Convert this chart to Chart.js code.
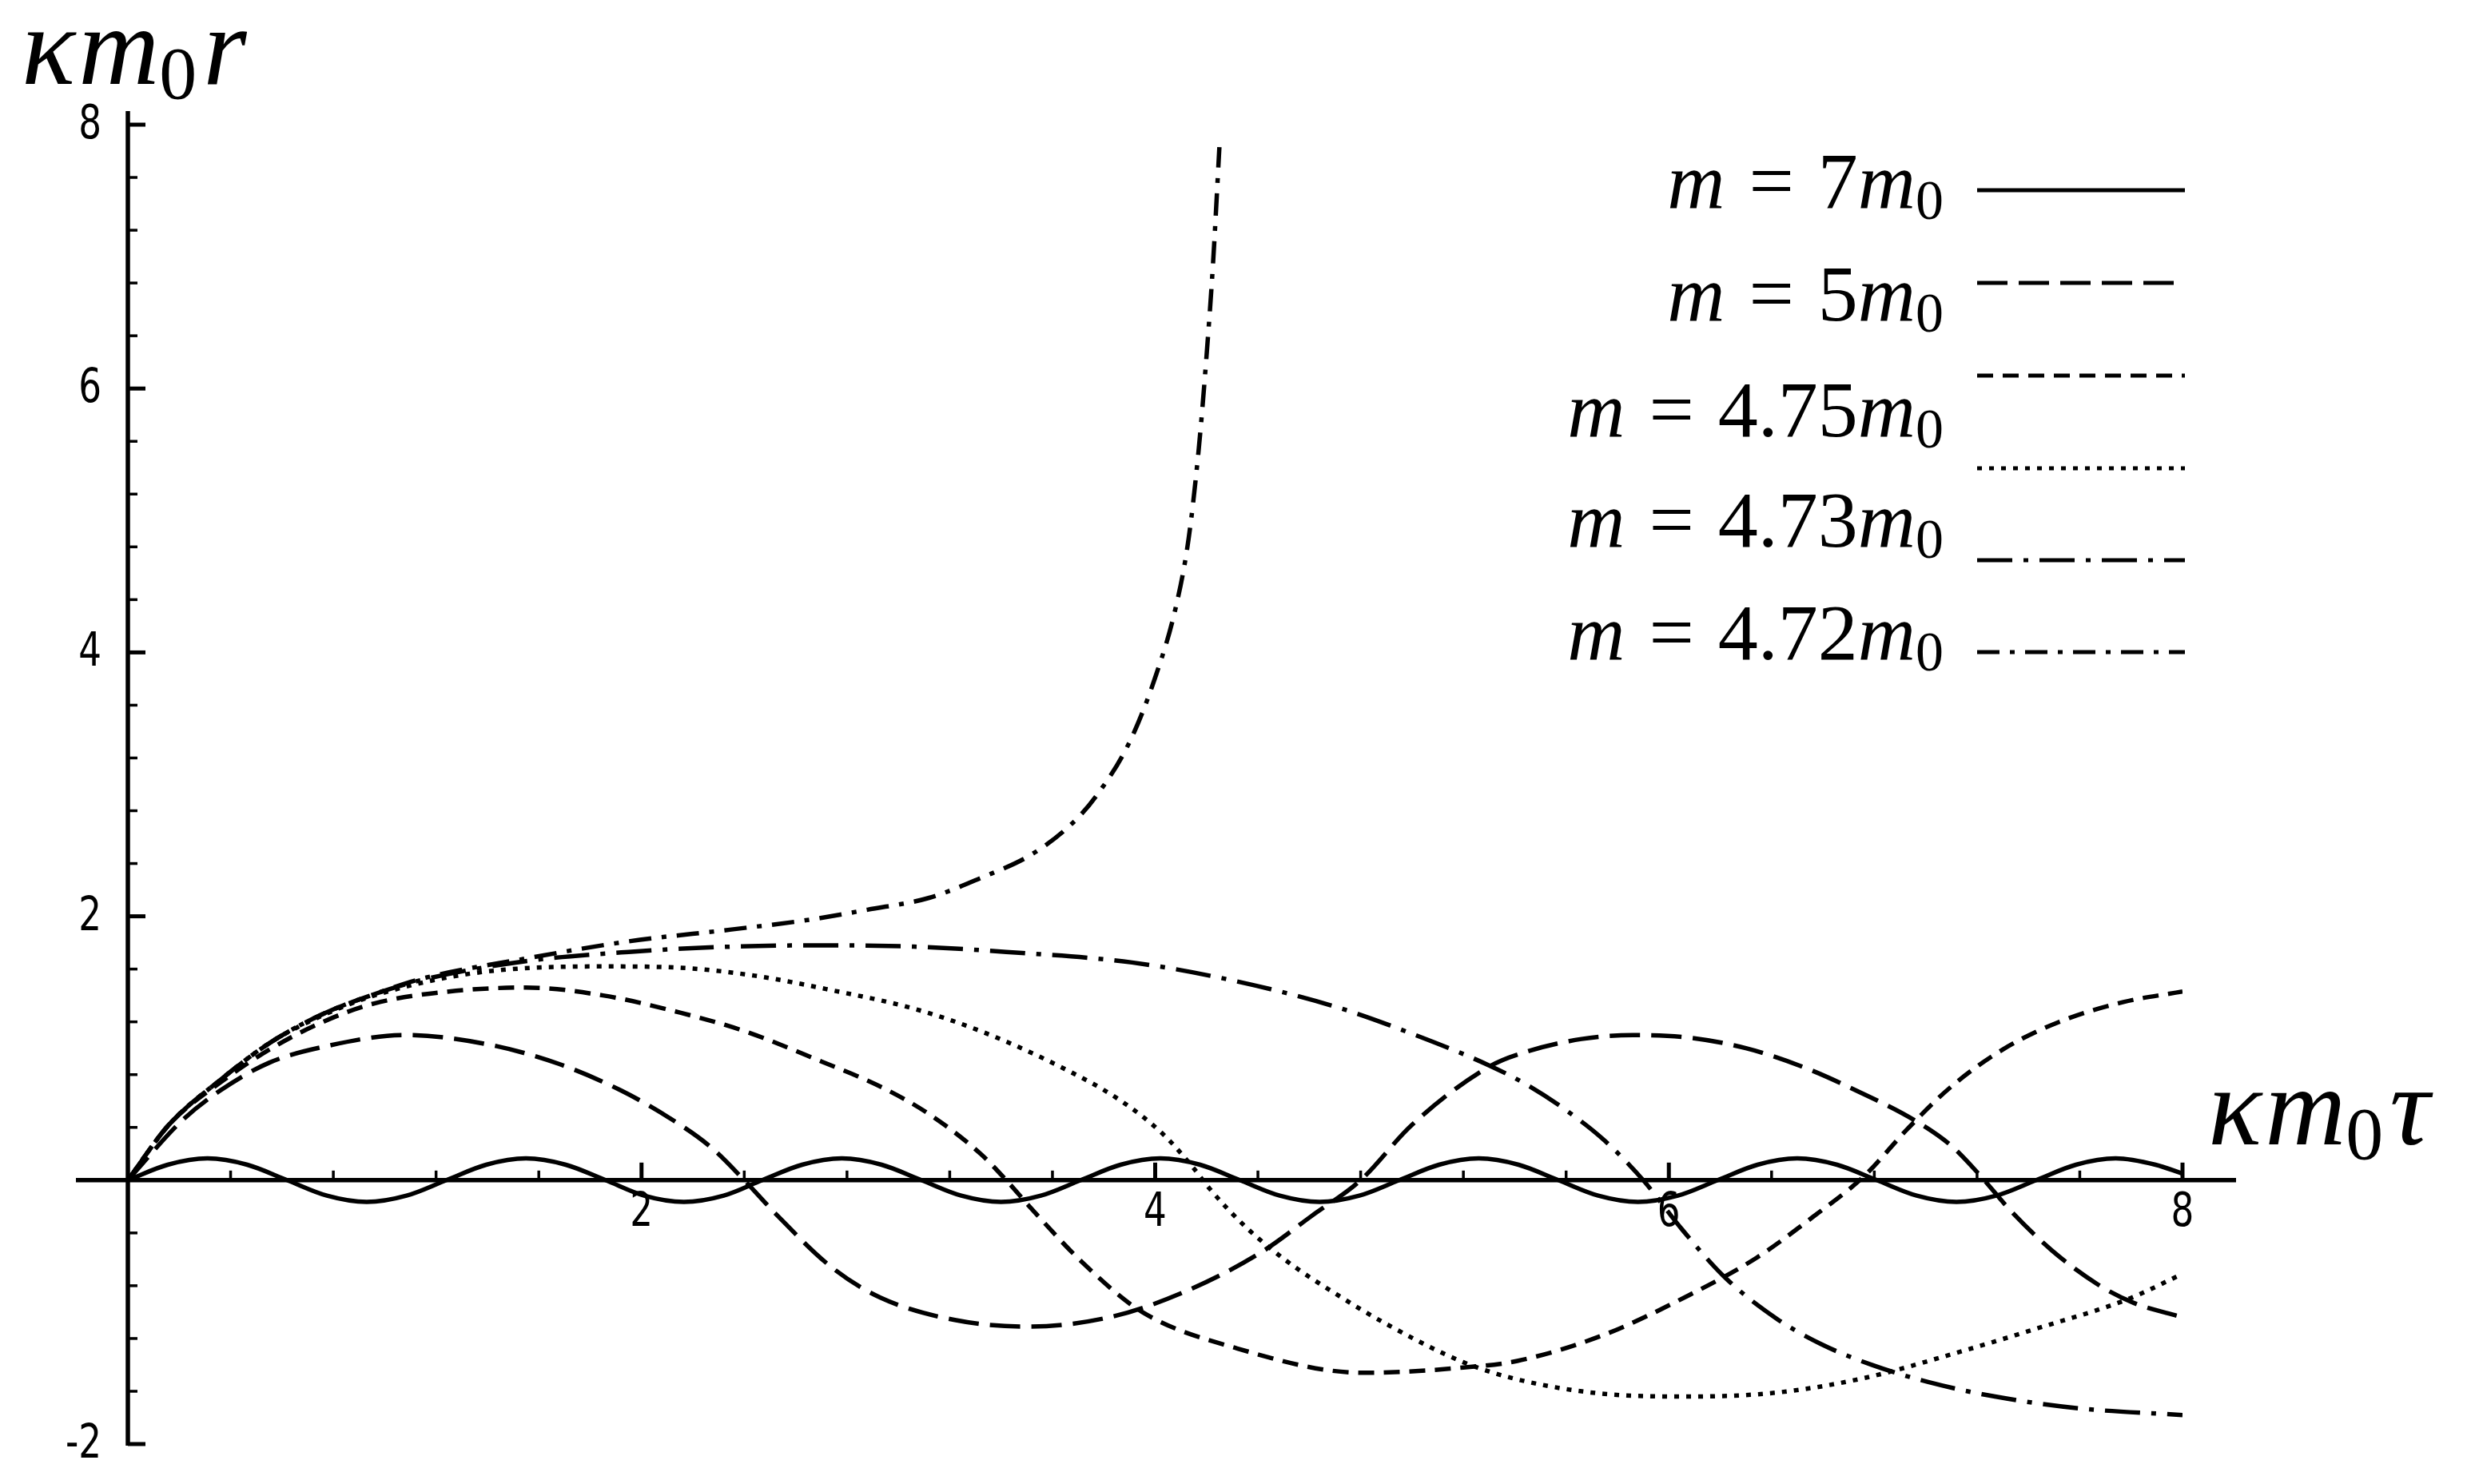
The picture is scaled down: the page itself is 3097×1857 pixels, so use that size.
<!DOCTYPE html>
<html>
<head>
<meta charset="utf-8">
<script src="https://cdn.jsdelivr.net/npm/chart.js@4.4.1/dist/chart.umd.min.js"></script>
<style>
  html, body { margin: 0; padding: 0; background: #fff; }
  #wrap { width: 3097px; height: 1857px; }
</style>
</head>
<body>
<div id="wrap"><canvas id="chart" width="3097" height="1857"></canvas></div>
<script>
// ==================data=================
// x = kappa m0 tau, y = kappa m0 r

// m = 7 m0 (solid)
const tau7 = [0, 0.155, 0.31, 0.465, 0.62, 0.775, 0.93, 1.085, 1.24, 1.395, 1.55, 1.705,
  1.86, 2.01, 2.165, 2.32, 2.47, 2.625, 2.78, 2.935, 3.09, 3.245, 3.4, 3.555, 3.71, 3.865,
  4.02, 4.175, 4.33, 4.485, 4.64, 4.795, 4.95, 5.105, 5.26, 5.415, 5.57, 5.725, 5.88, 6.035,
  6.19, 6.345, 6.5, 6.655, 6.81, 6.965, 7.12, 7.275, 7.43, 7.585, 7.74, 7.895, 8.0];
const r7 = [0, 0.117, 0.165, 0.117, 0, -0.117, -0.165, -0.117,
  0, 0.117, 0.165, 0.117, 0, -0.117, -0.165, -0.117,
  0, 0.117, 0.165, 0.117, 0, -0.117, -0.165, -0.117,
  0, 0.117, 0.165, 0.117, 0, -0.117, -0.165, -0.117,
  0, 0.117, 0.165, 0.117, 0, -0.117, -0.165, -0.117,
  0, 0.117, 0.165, 0.117, 0, -0.117, -0.165, -0.117,
  0, 0.117, 0.165, 0.117, 0.05];

// m = 5 m0 (long dash)
const tau5 = [0, 0.21, 0.36, 0.55, 0.76, 1.08, 1.40, 1.68, 1.92, 2.11, 2.27, 2.40, 2.52,
  2.74, 2.93, 3.22, 3.50, 3.82, 4.11, 4.41, 4.61, 4.80, 5.00, 5.30, 5.44, 5.66, 5.86, 6.08,
  6.30, 6.52, 6.74, 6.96, 7.10, 7.21, 7.33, 7.49, 7.67, 7.81, 8.0];
const r5 = [0, 0.45, 0.68, 0.89, 1.01, 1.10, 1.03, 0.88, 0.68, 0.47, 0.25, 0.0, -0.25,
  -0.66, -0.89, -1.06, -1.11, -1.04, -0.85, -0.55, -0.27, 0.0, 0.42, 0.86, 0.97, 1.07, 1.10, 1.08,
  1.00, 0.86, 0.67, 0.45, 0.26, 0.04, -0.23, -0.53, -0.79, -0.93, -1.04];

// m = 4.75 m0 (short dash)
const tau475 = [0, 0.16, 0.36, 0.56, 0.76, 0.96, 1.25, 1.55, 1.85, 2.15, 2.40, 2.70, 2.94,
  3.12, 3.32, 3.42, 3.52, 3.72, 3.95, 4.31, 4.81, 5.20, 5.41, 5.75, 6.08, 6.34, 6.56, 6.76,
  6.93, 7.10, 7.30, 7.52, 7.77, 8.0];
const r475 = [0, 0.42, 0.74, 1.00, 1.20, 1.34, 1.43, 1.46, 1.40, 1.27, 1.13, 0.90, 0.70,
  0.50, 0.20, 0.0, -0.22, -0.63, -1.0, -1.27, -1.46, -1.42, -1.37, -1.17, -0.87, -0.59, -0.28, 0.03,
  0.39, 0.71, 0.99, 1.20, 1.35, 1.43];

// dotted
const tauDot = [0, 0.16, 0.36, 0.56, 0.76, 0.96, 1.35, 1.85, 2.15, 2.44, 2.74, 3.06, 3.32,
  3.62, 3.86, 4.03, 4.15, 4.21, 4.35, 4.51, 4.71, 4.90, 5.20, 5.41, 5.75, 6.08, 6.42, 6.76,
  7.10, 7.44, 7.79, 8.0];
const rDot = [0, 0.42, 0.76, 1.05, 1.25, 1.40, 1.57, 1.62, 1.61, 1.55, 1.44, 1.30, 1.13,
  0.87, 0.61, 0.35, 0.09, -0.06, -0.35, -0.61, -0.87, -1.09, -1.38, -1.51, -1.62, -1.64, -1.61, -1.50,
  -1.32, -1.12, -0.90, -0.71];

// dash-dot
const tauDashDot = [0, 0.16, 0.36, 0.56, 0.76, 0.96, 1.15, 1.55, 1.95, 2.35, 2.74, 3.06, 3.42,
  3.91, 4.31, 4.71, 5.00, 5.30, 5.45, 5.60, 5.75, 5.90, 6.05, 6.22, 6.42, 6.59, 6.79, 7.01,
  7.27, 7.60, 8.0];
const rDashDot = [0, 0.42, 0.76, 1.05, 1.26, 1.41, 1.52, 1.66, 1.73, 1.77, 1.78, 1.77, 1.73,
  1.65, 1.51, 1.31, 1.11, 0.87, 0.72, 0.53, 0.30, 0.0, -0.37, -0.74, -1.05, -1.24, -1.40, -1.53,
  -1.64, -1.73, -1.78];

// dash-dot, shorter dashes (runs away)
const tauRun = [0, 0.16, 0.36, 0.56, 0.76, 0.96, 1.15, 1.55, 1.95, 2.35, 2.64, 2.88, 3.12,
  3.32, 3.52, 3.68, 3.77, 3.90, 4.00, 4.08, 4.13, 4.17, 4.20, 4.225, 4.25];
const rRun = [0, 0.42, 0.76, 1.05, 1.26, 1.41, 1.53, 1.68, 1.81, 1.90, 1.97, 2.05, 2.14,
  2.29, 2.47, 2.71, 2.91, 3.32, 3.81, 4.34, 4.86, 5.55, 6.25, 6.94, 7.83];

const xTicks = [2, 4, 6, 8];
const yTicks = [-2, 2, 4, 6, 8];
const yTickText = ["-2", "2", "4", "6", "8"];
const legendFactors = ["7", "5", "4.75", "4.73", "4.72"];

// ==================styles=================
const seriesList = [
  { tau: tau7, r: r7, dash: [] },
  { tau: tau5, r: r5, dash: [38, 14] },
  { tau: tau475, r: r475, dash: [20, 12] },
  { tau: tauDot, r: rDot, dash: [6, 9] },
  { tau: tauDashDot, r: rDashDot, dash: [44, 14, 6, 14] },
  { tau: tauRun, r: rRun, dash: [28, 13, 6, 13] },
];

const SERIF = '"Liberation Serif", "DejaVu Serif", serif';

function drawMath(ctx, parts, x, y, align) {
  let total = 0;
  parts.forEach(function (p) {
    ctx.font = p.font;
    p.w = ctx.measureText(p.t).width + (p.gap || 0);
    total += p.w;
  });
  let cx = align === "right" ? x - total : x;
  ctx.textAlign = "left";
  ctx.textBaseline = "alphabetic";
  parts.forEach(function (p) {
    ctx.font = p.font;
    ctx.fillText(p.t, cx, y + (p.dy || 0));
    cx += p.w;
  });
}

function drawNarrow(ctx, text, x, y, align) {
  ctx.save();
  ctx.translate(x, y);
  ctx.scale(0.78, 1);
  ctx.font = '58px "DejaVu Sans", sans-serif';
  ctx.textAlign = align;
  ctx.textBaseline = "middle";
  ctx.fillText(text, 0, 0);
  ctx.restore();
}

const axesPlugin = {
  id: "mmaAxes",
  afterDatasetsDraw(chart) {
    const ctx = chart.ctx;
    const xs = chart.scales.x;
    const ys = chart.scales.y;
    const x0 = xs.getPixelForValue(0);
    const y0 = ys.getPixelForValue(0);
    ctx.save();
    ctx.strokeStyle = "#000";
    ctx.fillStyle = "#000";
    ctx.lineCap = "butt";

    // axes lines
    ctx.lineWidth = 5.5;
    ctx.beginPath();
    ctx.moveTo(x0 - 65, y0);
    ctx.lineTo(xs.getPixelForValue(8) + 67, y0);
    ctx.stroke();
    ctx.beginPath();
    ctx.moveTo(x0, ys.getPixelForValue(8) - 17);
    ctx.lineTo(x0, ys.getPixelForValue(-2) + 2);
    ctx.stroke();

    // y ticks (minor every 0.4)
    for (let i = -5; i <= 20; i++) {
      if (i === 0) continue;
      const py = ys.getPixelForValue(i * 0.4);
      const major = i % 5 === 0;
      ctx.lineWidth = major ? 5 : 3.5;
      ctx.beginPath();
      ctx.moveTo(x0, py);
      ctx.lineTo(x0 + (major ? 22 : 12), py);
      ctx.stroke();
    }
    // x ticks
    for (let i = 1; i <= 20; i++) {
      const px = xs.getPixelForValue(i * 0.4);
      const major = i % 5 === 0;
      ctx.lineWidth = major ? 5 : 3.5;
      ctx.beginPath();
      ctx.moveTo(px, y0);
      ctx.lineTo(px, y0 - (major ? 22 : 12));
      ctx.stroke();
    }

    // tick labels
    xTicks.forEach(function (v) {
      drawNarrow(ctx, String(v), xs.getPixelForValue(v), y0 + 42, "center");
    });
    yTicks.forEach(function (v, i) {
      drawNarrow(ctx, yTickText[i], x0 - 33, ys.getPixelForValue(v) + 2, "right");
    });

    // axis titles
    const big = "italic 140px " + SERIF;
    const sub = "94px " + SERIF;
    drawMath(ctx, [
      { t: "\u03BA", font: big, gap: 4 },
      { t: "m", font: big },
      { t: "0", font: sub, dy: 18, gap: 8 },
      { t: "r", font: big },
    ], 27, 105, "left");
    drawMath(ctx, [
      { t: "\u03BA", font: big, gap: 4 },
      { t: "m", font: big },
      { t: "0", font: sub, dy: 18, gap: 8 },
      { t: "\u03C4", font: big },
    ], 2763, 1432, "left");

    // legend text
    const lgI = "italic 100px " + SERIF;
    const lgR = "100px " + SERIF;
    const lgS = "70px " + SERIF;
    const textBase = [260, 401, 546, 684, 825];
    legendFactors.forEach(function (f, i) {
      drawMath(ctx, [
        { t: "m", font: lgI, gap: 30 },
        { t: "=", font: lgR, gap: 30 },
        { t: f, font: lgR },
        { t: "m", font: lgI },
        { t: "0", font: lgS, dy: 14 },
      ], 2432, textBase[i], "right");
    });

    // legend line samples
    const lineY = [238, 354, 470, 586, 701, 816];
    seriesList.forEach(function (s, i) {
      ctx.lineWidth = 5;
      ctx.setLineDash(s.dash);
      ctx.beginPath();
      ctx.moveTo(2474, lineY[i]);
      ctx.lineTo(2734, lineY[i]);
      ctx.stroke();
    });
    ctx.setLineDash([]);
    ctx.restore();
  },
};

const datasets = seriesList.map(function (s) {
  return {
    data: s.tau.map(function (t, i) { return { x: t, y: s.r[i] }; }),
    borderColor: "#000",
    borderWidth: 5.5,
    borderDash: s.dash,
    borderCapStyle: "butt",
    borderJoinStyle: "round",
    cubicInterpolationMode: "monotone",
    pointRadius: 0,
    fill: false,
  };
});

new Chart(document.getElementById("chart"), {
  type: "line",
  data: { datasets: datasets },
  options: {
    responsive: false,
    animation: false,
    devicePixelRatio: 1,
    layout: { padding: { left: 160, right: 366, top: 156, bottom: 50 } },
    plugins: { legend: { display: false }, tooltip: { enabled: false } },
    scales: {
      x: { type: "linear", min: 0, max: 8, display: false },
      y: { type: "linear", min: -2, max: 8, display: false },
    },
  },
  plugins: [axesPlugin],
});
</script>
</body>
</html>
